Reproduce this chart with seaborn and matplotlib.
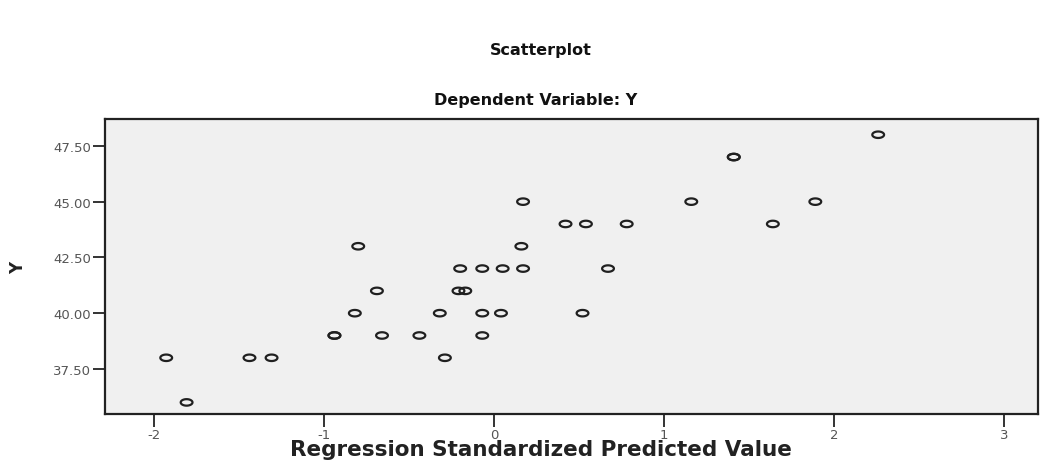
import numpy as np
import pandas as pd
import matplotlib
matplotlib.use("Agg")
import matplotlib.pyplot as plt
from matplotlib.path import Path
import seaborn as sns

# Data
pred_std = [-1.93, -1.81, -1.44, -1.31, -0.94, -0.94, -0.82, -0.80, -0.69, -0.66,
            -0.44, -0.32, -0.29, -0.20, -0.21, -0.17, -0.07, -0.07, -0.07, 0.04,
            0.05, 0.17, 0.16, 0.17, 0.42, 0.54, 0.78, 0.67, 0.52, 1.16,
            1.41, 1.41, 1.64, 1.89, 2.26]
y_vals = [38, 36, 38, 38, 39, 39, 40, 43, 41, 39,
          39, 40, 38, 42, 41, 41, 42, 40, 39, 40,
          42, 45, 43, 42, 44, 44, 44, 42, 40, 45,
          47, 47, 44, 45, 48]
x_ticks = [-2, -1, 0, 1, 2, 3]
y_ticks = [37.5, 40.0, 42.5, 45.0, 47.5]
y_tick_labels = ["37.50", "40.00", "42.50", "45.00", "47.50"]

df = pd.DataFrame({"pred": pred_std, "y": y_vals})

sns.set_theme(style="white")
plt.rcParams["font.family"] = ["DejaVu Sans"]

fig = plt.figure(figsize=(10.4, 4.64), dpi=100)
ax = fig.add_axes([0.101, 0.1056, 0.897, 0.636])
ax.set_facecolor("#F0F0F0")

# ellipse-shaped open marker
t = np.linspace(0, 2 * np.pi, 40)
ell = Path(np.column_stack([np.cos(t), 0.55 * np.sin(t)]), closed=True)

sns.scatterplot(data=df, x="pred", y="y", ax=ax, marker=ell, s=72,
                facecolor="none", edgecolor="#202020", linewidth=1.6)

ax.set_xlim(-2.29, 3.2)
ax.set_ylim(35.48, 48.71)
ax.set_xticks(x_ticks)
ax.set_xticklabels([str(v) for v in x_ticks])
ax.set_yticks(y_ticks)
ax.set_yticklabels(y_tick_labels)
ax.tick_params(axis="both", direction="out", length=9, width=1.4, color="#333333",
               labelcolor="#555555", labelsize=9.5, pad=1, left=True, bottom=True)
for s in ax.spines.values():
    s.set_color("#222222")
    s.set_linewidth(1.6)

ax.set_xlabel("")
ax.set_ylabel("")
fig.text(0.017, 0.422, "Y", rotation=90, ha="center", va="center",
         fontsize=12, fontweight="bold", color="#222222")
fig.text(0.520, 0.008, "Regression Standardized Predicted Value", ha="center",
         va="bottom", fontsize=15.5, fontweight="bold", color="#222222")
fig.text(0.520, 0.892, "Scatterplot", ha="center", va="center",
         fontsize=11.5, fontweight="bold", color="#111111")
fig.text(0.515, 0.784, "Dependent Variable: Y", ha="center", va="center",
         fontsize=11.5, fontweight="bold", color="#111111")

fig.savefig("out.png", dpi=100, facecolor="white")
